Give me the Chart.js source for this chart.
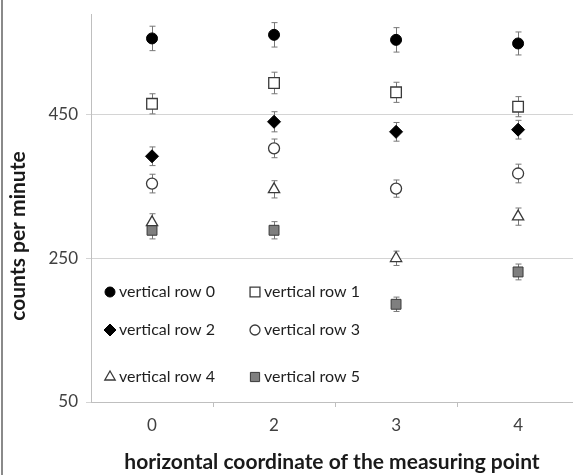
<!DOCTYPE html>
<html>
<head>
<meta charset="utf-8">
<script src="https://cdn.jsdelivr.net/npm/chart.js@4"></script>
<style>
  html, body { margin: 0; padding: 0; background: #fff; overflow: hidden; }
  #wrap { position: relative; width: 573px; height: 475px; }
  #edge { position: absolute; left: 1px; top: 0; width: 2px; height: 475px; background: #8a8a8a; }
</style>
</head>
<body>
<div id="wrap">
  <canvas id="graph1" width="573" height="475"></canvas>
  <div id="edge"></div>
</div>
<script>
// categories on the x axis
var xLabels = ['0', '2', '3', '4'];
var yTicks = [50, 250, 450];

// counts per minute, one array per vertical row
var row0 = [556, 561, 554, 549];
var row1 = [465, 494, 481, 461];
var row2 = [392, 440, 426, 429];
var row3 = [354, 403, 347, 368];
var row4 = [300, 346, 250, 308];
var row5 = [289, 289, 186, 231];

// error bars (+/-)
var err0 = [17, 17, 17, 16];
var err1 = [14, 15, 14, 14];
var err2 = [13, 14, 13, 13];
var err3 = [13, 13, 12, 13];
var err4 = [12, 12, 10, 12];
var err5 = [12, 12, 10, 11];

var names = ['vertical row 0', 'vertical row 1', 'vertical row 2', 'vertical row 3', 'vertical row 4', 'vertical row 5'];

function pts(arr) {
    return arr.map(function (v, i) { return {x: i, y: v}; });
}

var dark = '#3a3a3a';
var datasets = [
    {label: names[0], data: pts(row0), err: err0, pointStyle: 'circle', pointRadius: 5.5, backgroundColor: '#000', borderColor: '#000', borderWidth: 1},
    {label: names[1], data: pts(row1), err: err1, pointStyle: 'rect', pointRadius: 7.5, backgroundColor: '#fff', borderColor: dark, borderWidth: 1.3},
    {label: names[2], data: pts(row2), err: err2, pointStyle: 'rectRot', pointRadius: 6.5, backgroundColor: '#000', borderColor: '#000', borderWidth: 1},
    {label: names[3], data: pts(row3), err: err3, pointStyle: 'circle', pointRadius: 5.5, backgroundColor: '#fff', borderColor: dark, borderWidth: 1.3},
    {label: names[4], data: pts(row4), err: err4, pointStyle: 'triangle', pointRadius: 6.5, backgroundColor: '#fff', borderColor: dark, borderWidth: 1.3},
    {label: names[5], data: pts(row5), err: err5, pointStyle: 'rect', pointRadius: 7, backgroundColor: '#7f7f7f', borderColor: dark, borderWidth: 1}
];

// error bars drawn behind the markers
var errorBars = {
    id: 'errorBars',
    beforeDatasetsDraw: function (chart) {
        var ctx = chart.ctx;
        var ys = chart.scales.y;
        ctx.save();
        ctx.strokeStyle = '#777';
        ctx.lineWidth = 1;
        chart.data.datasets.forEach(function (ds, di) {
            var meta = chart.getDatasetMeta(di);
            meta.data.forEach(function (pt, i) {
                var v = ds.data[i].y, e = ds.err[i];
                var x = Math.round(pt.x) + 0.5;
                var y1 = ys.getPixelForValue(v + e), y2 = ys.getPixelForValue(v - e);
                ctx.beginPath();
                ctx.moveTo(x, y1); ctx.lineTo(x, y2);
                ctx.moveTo(x - 3, y1); ctx.lineTo(x + 3, y1);
                ctx.moveTo(x - 3, y2); ctx.lineTo(x + 3, y2);
                ctx.stroke();
            });
        });
        ctx.restore();
    }
};

// legend inside the plot, two columns
var legendInside = {
    id: 'legendInside',
    afterDatasetsDraw: function (chart) {
        var ctx = chart.ctx;
        var a = chart.chartArea;
        var colX = [a.left + 19, a.left + 164];
        var rowY = [292, 330, 377];
        ctx.save();
        ctx.font = '16px Lato';
        ctx.textBaseline = 'middle';
        ctx.textAlign = 'left';
        chart.data.datasets.forEach(function (ds, di) {
            var x = colX[di % 2], y = rowY[Math.floor(di / 2)];
            ctx.fillStyle = ds.backgroundColor;
            ctx.strokeStyle = ds.borderColor;
            ctx.lineWidth = ds.borderWidth;
            Chart.helpers.drawPoint(ctx, {pointStyle: ds.pointStyle, radius: ds.pointRadius - 0.5, borderWidth: ds.borderWidth, rotation: 0}, x, y);
            ctx.fillStyle = '#1e1e1e';
            ctx.fillText(ds.label, x + 9, y);
        });
        ctx.restore();
    }
};

let graph1 = document.getElementById('graph1').getContext('2d');
const myChart = new Chart(graph1, {
    type: 'scatter',
    data: {datasets: datasets},
    plugins: [errorBars, legendInside],
    options: {
        responsive: false,
        animation: false,
        layout: {autoPadding: false, padding: {left: 0, right: 0, top: 14, bottom: 0}},
        plugins: {
            legend: {display: false},
            tooltip: {enabled: false}
        },
        scales: {
            x: {
                type: 'linear',
                min: -0.5,
                max: 3.45,
                afterFit: function (s) { s.height = 73; s.paddingLeft = 0; s.paddingRight = 0; },
                afterBuildTicks: function (s) {
                    s.ticks = [0, 0.5, 1, 1.5, 2, 2.5, 3].map(function (v) { return {value: v}; });
                },
                grid: {
                    drawOnChartArea: false,
                    tickLength: 5,
                    color: function (c) { return (c.tick && c.tick.value % 1 !== 0) ? '#bfbfbf' : 'rgba(0,0,0,0)'; }
                },
                border: {color: '#bfbfbf', width: 1},
                ticks: {
                    autoSkip: false,
                    maxRotation: 0,
                    padding: 8,
                    color: '#404040',
                    font: {family: 'Lato', size: 17},
                    callback: function (v) { return (v % 1 === 0) ? xLabels[v] : ''; }
                },
                title: {
                    display: true,
                    text: 'horizontal coordinate of the measuring point',
                    color: '#1a1a1a',
                    font: {family: 'Lato', size: 21, weight: 'bold'},
                    padding: {top: 0, bottom: 0}
                }
            },
            y: {
                min: 50,
                max: 590,
                afterFit: function (s) { s.width = 91; s.paddingTop = 0; s.paddingBottom = 0; },
                afterBuildTicks: function (s) {
                    s.ticks = yTicks.map(function (v) { return {value: v}; });
                },
                grid: {color: '#d4d4d4', tickLength: 5},
                border: {color: '#bfbfbf', width: 1},
                ticks: {
                    padding: 8,
                    color: '#404040',
                    font: {family: 'Lato', size: 17}
                },
                title: {
                    display: true,
                    text: 'counts per minute           ',
                    color: '#1a1a1a',
                    font: {family: 'Lato', size: 21, weight: 'bold'},
                    padding: {top: 6, bottom: 0}
                }
            }
        }
    }
});
</script>
</body>
</html>
